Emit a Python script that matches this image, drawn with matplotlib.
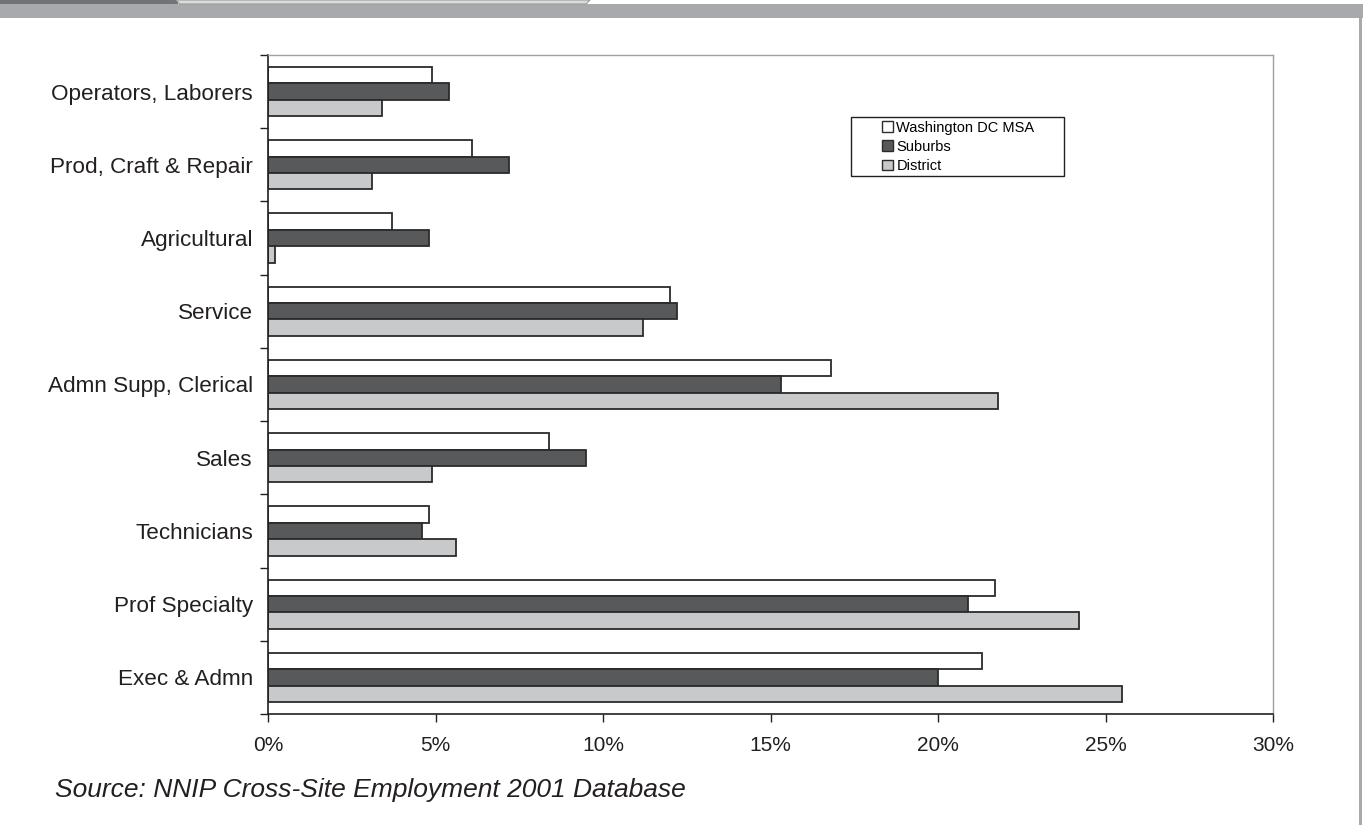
import numpy as np
import matplotlib
matplotlib.use("Agg")
from matplotlib import pyplot as plt
from matplotlib.patches import Rectangle, Polygon

plt.rcParams['font.family'] = ['Liberation Sans', 'DejaVu Sans']

# occupations, top to bottom
categories = ["Operators, Laborers", "Prod, Craft & Repair", "Agricultural", "Service",
              "Admn Supp, Clerical", "Sales", "Technicians", "Prof Specialty", "Exec & Admn"]
series_names = ["Washington DC MSA", "Suburbs", "District"]
msa = [4.9, 6.1, 3.7, 12.0, 16.8, 8.4, 4.8, 21.7, 21.3]
suburbs = [5.4, 7.2, 4.8, 12.2, 15.3, 9.5, 4.6, 20.9, 20.0]
district = [3.4, 3.1, 0.2, 11.2, 21.8, 4.9, 5.6, 24.2, 25.5]
xticks = [0, 5, 10, 15, 20, 25, 30]

W, H = 1363, 825
fig = plt.figure(figsize=(W / 100, H / 100), dpi=100)
ax = fig.add_axes([268 / W, 1 - 714 / H, (1273 - 268) / W, (714 - 55) / H])

ink = '#231f20'
colors = ['white', '#58595b', '#c8c9cb']
n = len(categories)
y = np.arange(n)
bh = 0.224
for k, (vals, c, name) in enumerate(zip([msa, suburbs, district], colors, series_names)):
    ax.barh(y + (k - 1) * bh, vals, height=bh, color=c, edgecolor='#2b2b2b',
            linewidth=1.3, label=name)

ax.set_xlim(0, 30)
ax.set_ylim(n - 0.5, -0.5)

# category boundaries carry the ticks, centres carry the labels
ax.set_yticks(np.arange(n + 1) - 0.5)
ax.set_yticklabels([])
ax.set_yticks(y, minor=True)
ax.set_yticklabels(categories, minor=True, fontsize=16.2, color=ink)
ax.tick_params(axis='y', which='major', direction='out', length=6, width=1, color=ink)
ax.tick_params(axis='y', which='minor', length=0, pad=10.8)

ax.set_xticks(xticks)
ax.set_xticklabels([f"{t}%" for t in xticks], fontsize=15, color=ink)
ax.tick_params(axis='x', direction='out', length=6, width=1, color=ink, pad=10)

for s in ['left', 'bottom']:
    ax.spines[s].set_color(ink)
    ax.spines[s].set_linewidth(1.2)
for s in ['top', 'right']:
    ax.spines[s].set_color('#a0a0a0')
    ax.spines[s].set_linewidth(1.0)

leg = ax.legend(loc='upper left', bbox_to_anchor=(870 / W, 1 - 109 / H),
                bbox_transform=fig.transFigure, frameon=False, fontsize=10.5,
                handlelength=0.75, handleheight=0.75, handletextpad=0.25,
                labelspacing=0.36, borderpad=0.3)
for h in leg.legend_handles:
    h.set_edgecolor('#2b2b2b')
    h.set_linewidth(1.0)
fig.patches.append(Rectangle((851 / W, 1 - 176 / H), (1064 - 851) / W, (176 - 117) / H,
                             transform=fig.transFigure, facecolor='none',
                             edgecolor=ink, linewidth=1.0))

# page header strip and right margin rule
fig.patches.append(Rectangle((0, 1 - 18 / H), 1, 14 / H, transform=fig.transFigure,
                             facecolor='#a8a9ac', edgecolor='none'))
fig.patches.append(Rectangle((0, 1 - 4 / H), 178 / W, 4 / H, transform=fig.transFigure,
                             facecolor='#727375', edgecolor='none'))
fig.patches.append(Polygon([(176 / W, 1), (180 / W, 1 - 4 / H), (586 / W, 1 - 4 / H), (590 / W, 1)],
                           closed=True, transform=fig.transFigure,
                           facecolor='#dcdcdd', edgecolor='#9a9a9c', linewidth=0.8))
fig.patches.append(Rectangle((1359 / W, 0), 3 / W, 1 - 18 / H, transform=fig.transFigure,
                             facecolor='#a8a9ac', edgecolor='none'))

fig.text(55 / W, 1 - 790 / H, "Source: NNIP Cross-Site Employment 2001 Database",
         fontsize=19, style='italic', color=ink, va='center', ha='left')

fig.savefig('out.png', dpi=100)
